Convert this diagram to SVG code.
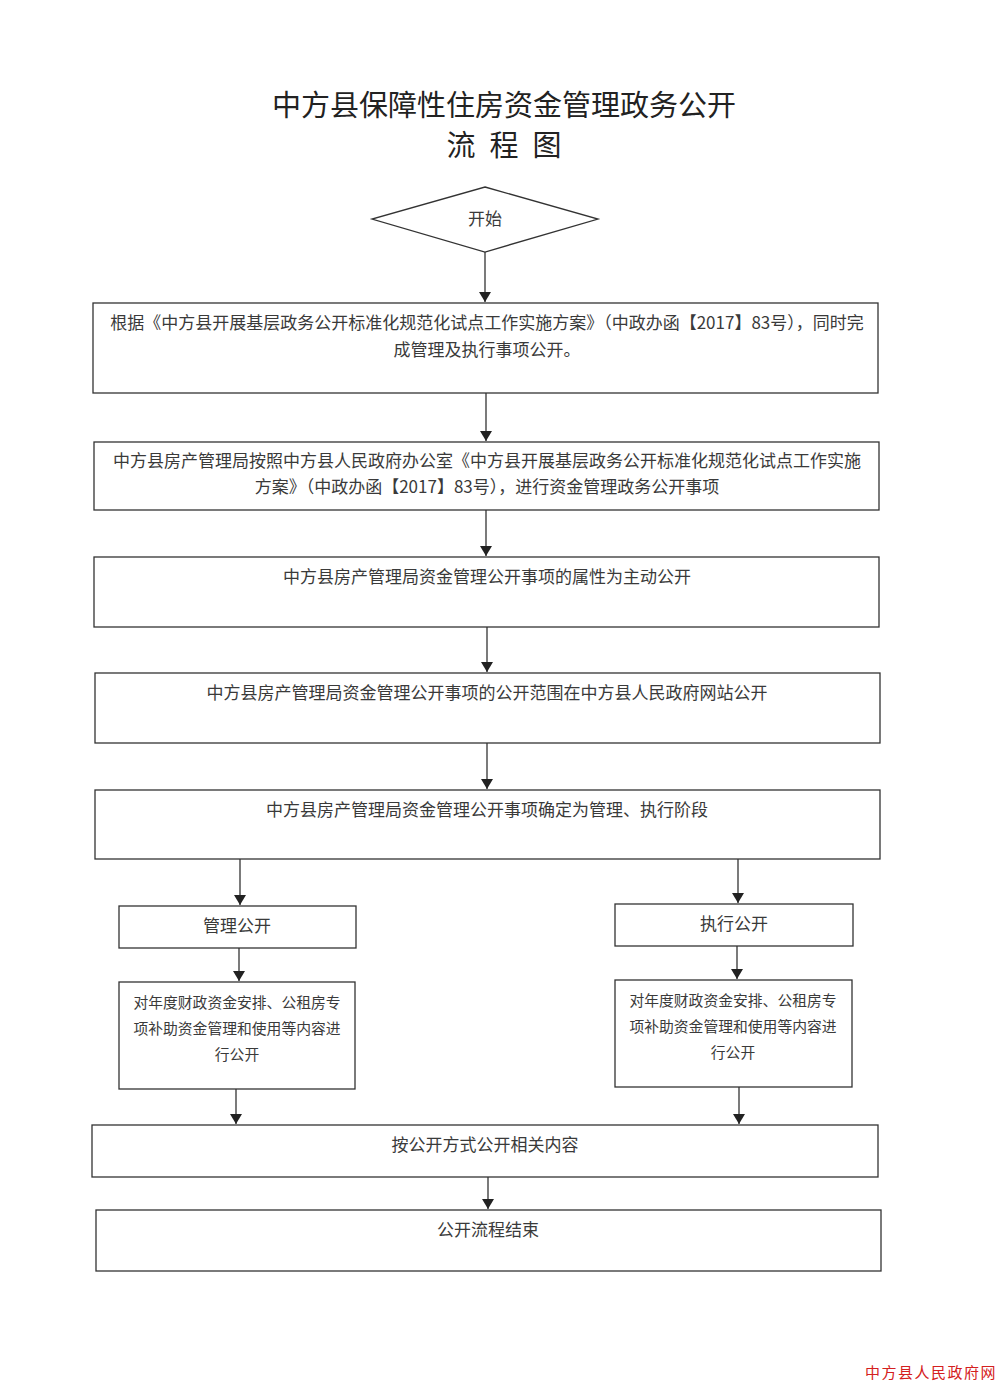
<svg xmlns="http://www.w3.org/2000/svg" width="1000" height="1386" viewBox="0 0 1000 1386">
<style>
.bg{fill:#ffffff}
.box{fill:#ffffff;stroke:#333333;stroke-width:1.3}
.t{font-family:"Noto Sans CJK SC","Noto Sans",sans-serif;fill:#3a3a3a;text-anchor:middle}
.m{font-size:17px}
.s{font-size:14.8px}
.title{font-family:"Noto Sans CJK SC",sans-serif;font-size:29px;fill:#222222;text-anchor:middle}
.c{stroke:#333333;stroke-width:1.3;fill:none;marker-end:url(#ah)}
</style>
<defs>
<marker id="ah" viewBox="0 0 10 12" refX="10" refY="6" markerWidth="10" markerHeight="12" markerUnits="userSpaceOnUse" orient="auto">
<path d="M0,0 L10,6 L0,12 Z" fill="#222222"/>
</marker>
</defs>
<rect class="bg" x="0" y="0" width="1000" height="1386"/>
<g id="title">
<text class="title" x="504" y="116">中方县保障性住房资金管理政务公开</text>
<text class="title" x="511" y="156" letter-spacing="14">流程图</text>
</g>
<g id="connectors">
<line class="c" x1="485" y1="252" x2="485" y2="302"/>
<line class="c" x1="486" y1="393" x2="486" y2="441"/>
<line class="c" x1="486" y1="510" x2="486" y2="556"/>
<line class="c" x1="487" y1="627" x2="487" y2="672"/>
<line class="c" x1="487" y1="743" x2="487" y2="789"/>
<line class="c" x1="240" y1="859" x2="240" y2="905"/>
<line class="c" x1="738" y1="859" x2="738" y2="903"/>
<line class="c" x1="239" y1="948" x2="239" y2="981"/>
<line class="c" x1="737" y1="946" x2="737" y2="979"/>
<line class="c" x1="236" y1="1089" x2="236" y2="1124"/>
<line class="c" x1="739" y1="1087" x2="739" y2="1124"/>
<line class="c" x1="488" y1="1177" x2="488" y2="1209"/>
</g>
<g id="start">
<polygon class="box" points="485,187 598,219 485,252 372,219"/>
<text class="t m" x="485" y="225">开始</text>
</g>
<g id="n1">
<rect class="box" x="93" y="303" width="785" height="90"/>
<text class="t m" x="487" y="329">根据《中方县开展基层政务公开标准化规范化试点工作实施方案》（中政办函【2017】83号），同时完</text>
<text class="t m" x="487" y="356">成管理及执行事项公开。</text>
</g>
<g id="n2">
<rect class="box" x="94" y="442" width="785" height="68"/>
<text class="t m" x="487" y="467">中方县房产管理局按照中方县人民政府办公室《中方县开展基层政务公开标准化规范化试点工作实施</text>
<text class="t m" x="487" y="493">方案》（中政办函【2017】83号），进行资金管理政务公开事项</text>
</g>
<g id="n3">
<rect class="box" x="94" y="557" width="785" height="70"/>
<text class="t m" x="487" y="583">中方县房产管理局资金管理公开事项的属性为主动公开</text>
</g>
<g id="n4">
<rect class="box" x="95" y="673" width="785" height="70"/>
<text class="t m" x="487" y="699">中方县房产管理局资金管理公开事项的公开范围在中方县人民政府网站公开</text>
</g>
<g id="n5">
<rect class="box" x="95" y="790" width="785" height="69"/>
<text class="t m" x="487" y="816">中方县房产管理局资金管理公开事项确定为管理、执行阶段</text>
</g>
<g id="n6">
<rect class="box" x="119" y="906" width="237" height="42"/>
<text class="t m" x="237" y="932">管理公开</text>
</g>
<g id="n7">
<rect class="box" x="615" y="904" width="238" height="42"/>
<text class="t m" x="734" y="930">执行公开</text>
</g>
<g id="n8">
<rect class="box" x="119" y="982" width="236" height="107"/>
<text class="t s" x="237" y="1008">对年度财政资金安排、公租房专</text>
<text class="t s" x="237" y="1034">项补助资金管理和使用等内容进</text>
<text class="t s" x="237" y="1060">行公开</text>
</g>
<g id="n9">
<rect class="box" x="615" y="980" width="237" height="107"/>
<text class="t s" x="733" y="1006">对年度财政资金安排、公租房专</text>
<text class="t s" x="733" y="1032">项补助资金管理和使用等内容进</text>
<text class="t s" x="733" y="1058">行公开</text>
</g>
<g id="n10">
<rect class="box" x="92" y="1125" width="786" height="52"/>
<text class="t m" x="485" y="1151">按公开方式公开相关内容</text>
</g>
<g id="n11">
<rect class="box" x="96" y="1210" width="785" height="61"/>
<text class="t m" x="488" y="1236">公开流程结束</text>
</g>
<g id="watermark">
<text x="931" y="1378" font-family="Noto Sans CJK SC,sans-serif" font-size="15" fill="#d42020" text-anchor="middle" letter-spacing="1.5">中方县人民政府网</text>
</g>
</svg>
